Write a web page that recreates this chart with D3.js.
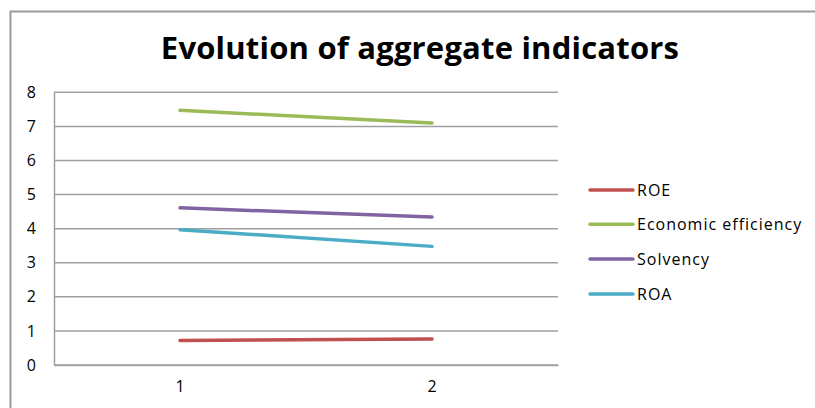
<!DOCTYPE html>
<html>
<head>
<meta charset="utf-8">
<script src="https://cdn.jsdelivr.net/npm/d3@7"></script>
<style>
  html, body { margin: 0; padding: 0; background: #fff; }
  svg { display: block; }
  text { font-variant-ligatures: none; }
</style>
</head>
<body>
<svg id="chart" width="815" height="408"></svg>
<script>
// Periods on the x axis
const categories = ["1", "2"];
// Indicator series
const seriesNames = ["ROE", "Economic efficiency", "Solvency", "ROA"];
const roe = [0.72, 0.76];
const economicEfficiency = [7.47, 7.10];
const solvency = [4.61, 4.34];
const roa = [3.97, 3.48];
const seriesColors = ["#C0504D", "#9BBB59", "#8064A2", "#4BACC6"];
const yTicks = [0, 1, 2, 3, 4, 5, 6, 7, 8];
const title = "Evolution of aggregate indicators";

const series = [roe, economicEfficiency, solvency, roa].map((values, i) => ({
  name: seriesNames[i],
  color: seriesColors[i],
  values
}));

const svg = d3.select("#chart");
const font = "'Open Sans', 'Liberation Sans', sans-serif";

// Chart frame
svg.append("rect")
  .attr("x", 10.5).attr("y", 11.5)
  .attr("width", 840).attr("height", 420)
  .attr("fill", "#fff")
  .attr("stroke", "#9a9a9a")
  .attr("stroke-width", 2);

// Title
svg.append("text")
  .attr("x", 420).attr("y", 59)
  .attr("text-anchor", "middle")
  .attr("font-family", font)
  .attr("font-weight", "bold")
  .attr("font-size", 31)
  .attr("letter-spacing", 0.2)
  .attr("fill", "#000")
  .text(title);

const plot = { left: 54, right: 558, top: 92.3, bottom: 365 };

const x = d3.scaleBand()
  .domain(categories)
  .range([plot.left, plot.right]);

const y = d3.scaleLinear()
  .domain([0, 8])
  .range([plot.bottom, plot.top]);

// Horizontal gridlines
svg.append("g")
  .selectAll("line")
  .data(yTicks)
  .join("line")
  .attr("x1", plot.left).attr("x2", plot.right)
  .attr("y1", d => y(d)).attr("y2", d => y(d))
  .attr("stroke", "#a0a0a0")
  .attr("stroke-width", 1.5);

// Y axis
const yAxis = svg.append("g")
  .attr("transform", `translate(${plot.left},0)`)
  .call(d3.axisLeft(y).tickValues(yTicks).tickSize(0).tickPadding(18));
yAxis.select(".domain").attr("stroke", "#a0a0a0").attr("stroke-width", 1.5);
yAxis.selectAll("text")
  .attr("font-family", font)
  .attr("font-size", 16)
  .attr("fill", "#000");

// X axis
const xAxis = svg.append("g")
  .attr("transform", `translate(0,${plot.bottom})`)
  .call(d3.axisBottom(x).tickSize(0).tickPadding(16));
xAxis.select(".domain").attr("stroke", "#a0a0a0").attr("stroke-width", 1.5);
xAxis.selectAll("text")
  .attr("font-family", font)
  .attr("font-size", 16)
  .attr("fill", "#000");

// Series lines
const line = d3.line()
  .x((d, i) => x(categories[i]) + x.bandwidth() / 2)
  .y(d => y(d));

svg.append("g")
  .selectAll("path")
  .data(series)
  .join("path")
  .attr("d", d => line(d.values))
  .attr("fill", "none")
  .attr("stroke", d => d.color)
  .attr("stroke-width", 3.5)
  .attr("stroke-linecap", "round");

// Legend
const legendRows = [190, 224.3, 259, 294];
const legend = svg.append("g")
  .selectAll("g")
  .data(series)
  .join("g")
  .attr("transform", (d, i) => `translate(590,${legendRows[i]})`);
legend.append("line")
  .attr("x1", 0).attr("x2", 43)
  .attr("y1", 0).attr("y2", 0)
  .attr("stroke", d => d.color)
  .attr("stroke-width", 3.5)
  .attr("stroke-linecap", "round");
legend.append("text")
  .attr("x", 47).attr("y", 0)
  .attr("dy", "0.36em")
  .attr("font-family", font)
  .attr("font-size", 16)
  .attr("letter-spacing", 1)
  .attr("fill", "#000")
  .text(d => d.name);
</script>
</body>
</html>
